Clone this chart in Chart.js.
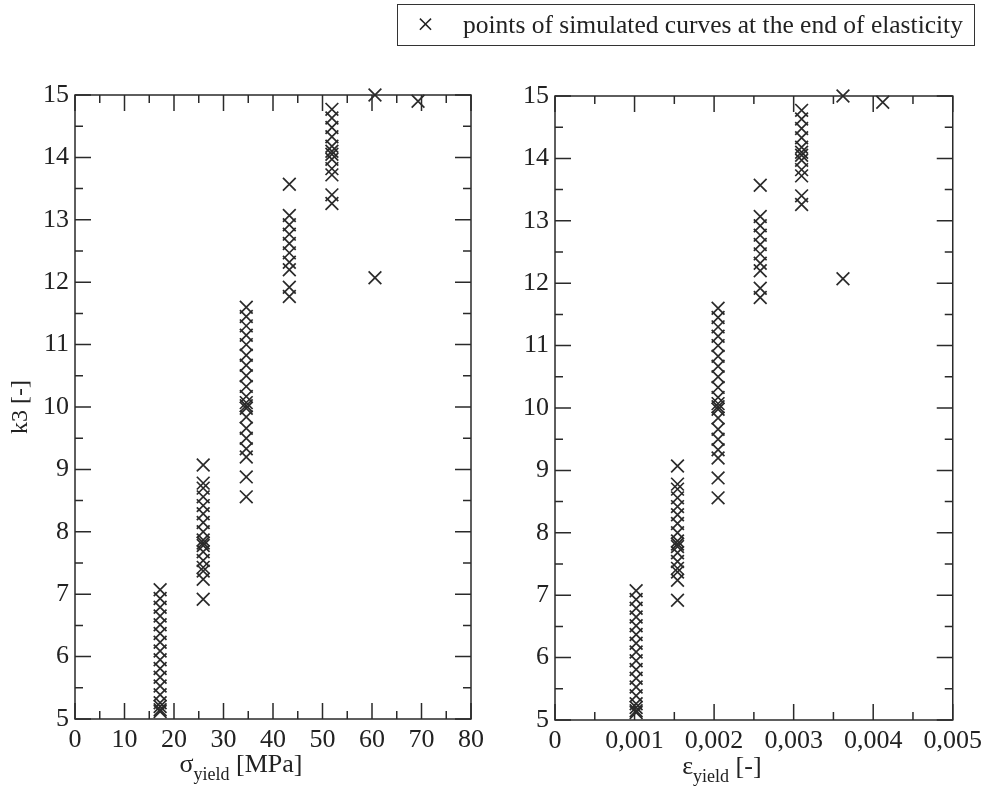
<!DOCTYPE html>
<html>
<head>
<meta charset="utf-8">
<script src="https://cdn.jsdelivr.net/npm/chart.js"></script>
<style>
  body { margin: 0; background: #fff; }
  #wrap { position: relative; width: 988px; height: 786px; background: #fff; }
  canvas { position: absolute; top: 0; }
  #left { left: 0; }
  #right { left: 490px; }
  #legend {
    position: absolute; left: 397px; top: 4px; width: 576px; height: 40px;
    border: 1.5px solid #333; font-family: 'Liberation Serif', serif;
    font-size: 25.5px; color: #222; line-height: 40px;
  }
  #legend .mark { position: absolute; left: 19px; top: -1px; font-size: 30px; }
  #legend .txt { position: absolute; left: 65px; top: 0; }
</style>
</head>
<body>
<div id="wrap">
  <canvas id="left" width="490" height="786"></canvas>
  <canvas id="right" width="498" height="786"></canvas>
  <div id="legend"><span class="mark">×</span><span class="txt">points of simulated curves at the end of elasticity</span></div>
</div>
<script>
// yield stress [MPa] and yield strain [-] of each group of simulated curves
const sigmaYield = [17.2, 25.9, 34.6, 43.3, 51.9, 60.6, 69.3];
const epsYield = [0.00102, 0.00154, 0.00205, 0.00258, 0.0031, 0.00362, 0.00412];

// k3 values read for each group
const k3Groups = [
  [7.07, 6.93, 6.79, 6.65, 6.51, 6.37, 6.23, 6.09, 5.95, 5.81, 5.67, 5.53, 5.39, 5.26, 5.2, 5.15, 5.12],
  [9.07, 8.78, 8.70, 8.56, 8.42, 8.29, 8.15, 8.0, 7.87, 7.82, 7.78, 7.68, 7.54, 7.43, 7.37, 7.24, 6.92],
  [11.6, 11.45, 11.3, 11.15, 11.0, 10.83, 10.67, 10.5, 10.33, 10.17, 10.07, 10.02, 9.98, 9.84, 9.66, 9.5, 9.33, 9.2, 8.88, 8.56],
  [13.57, 13.07, 12.92, 12.77, 12.62, 12.47, 12.32, 12.2, 11.92, 11.77],
  [14.77, 14.63, 14.48, 14.33, 14.18, 14.1, 14.05, 13.97, 13.82, 13.72, 13.4, 13.26],
  [15.0, 12.07],
  [14.9]
];

const sigmaTicks = [0, 80, 10];
const epsTicks = [0, 0.005, 0.001];
const k3Ticks = [5, 15, 1];

const ink = '#2a2a2a';
const serif = 'Liberation Serif';

function points(xs) {
  return k3Groups.flatMap((vals, i) => vals.map(v => ({ x: xs[i], y: v })));
}

// frame with inward major/minor ticks on all four sides, plus the x title with a subscript
const frame = {
  id: 'frame',
  afterDraw(chart, args, opts) {
    const { ctx, chartArea: a, scales: { x, y } } = chart;
    ctx.save();
    ctx.strokeStyle = ink;
    ctx.lineWidth = 1.5;
    ctx.strokeRect(a.left, a.top, a.right - a.left, a.bottom - a.top);
    const marks = (scale) => {
      const vals = scale.ticks.map(t => t.value);
      const step = vals[1] - vals[0];
      const out = [];
      vals.forEach(v => {
        out.push([v, 16]);
        if (v + step / 2 < scale.max) out.push([v + step / 2, 8]);
      });
      return out;
    };
    ctx.beginPath();
    marks(x).forEach(([v, len]) => {
      const px = x.getPixelForValue(v);
      ctx.moveTo(px, a.bottom); ctx.lineTo(px, a.bottom - len);
      ctx.moveTo(px, a.top); ctx.lineTo(px, a.top + len);
    });
    marks(y).forEach(([v, len]) => {
      const py = y.getPixelForValue(v);
      ctx.moveTo(a.left, py); ctx.lineTo(a.left + len, py);
      ctx.moveTo(a.right, py); ctx.lineTo(a.right - len, py);
    });
    ctx.stroke();

    // x axis title: symbol, subscript, unit
    ctx.fillStyle = '#222';
    ctx.textBaseline = 'alphabetic';
    ctx.textAlign = 'left';
    const big = '26px "' + serif + '"', small = '18px "' + serif + '"';
    ctx.font = big;
    const w1 = ctx.measureText(opts.sym).width;
    const w3 = ctx.measureText(opts.unit).width;
    ctx.font = small;
    const w2 = ctx.measureText('yield').width;
    let sx = (a.left + a.right) / 2 + opts.shift - (w1 + w2 + w3) / 2;
    const base = opts.base;
    ctx.font = big; ctx.fillText(opts.sym, sx, base); sx += w1;
    ctx.font = small; ctx.fillText('yield', sx, base + 8); sx += w2;
    ctx.font = big; ctx.fillText(opts.unit, sx, base);
    ctx.restore();
  }
};

function makeChart(id, xs, xr, fmt, pad, yWidth, xHeight, title, showYTitle) {
  return new Chart(document.getElementById(id), {
    type: 'scatter',
    data: {
      datasets: [{
        data: points(xs),
        pointStyle: 'crossRot',
        pointRadius: 9,
        pointHoverRadius: 9,
        pointBorderWidth: 1.7,
        borderColor: ink,
        backgroundColor: ink,
        clip: false
      }]
    },
    options: {
      responsive: false,
      animation: false,
      events: [],
      layout: { padding: pad },
      plugins: {
        legend: { display: false },
        tooltip: { enabled: false },
        frame: title
      },
      scales: {
        x: {
          type: 'linear', min: xr[0], max: xr[1],
          grid: { display: false, drawTicks: false },
          border: { display: false },
          ticks: {
            stepSize: xr[2], padding: 6, color: '#222',
            font: { family: serif, size: 26 },
            callback: fmt
          },
          afterFit: s => { s.height = xHeight; }
        },
        y: {
          min: k3Ticks[0], max: k3Ticks[1],
          grid: { display: false, drawTicks: false },
          border: { display: false },
          ticks: {
            stepSize: k3Ticks[2], padding: 6, color: '#222',
            font: { family: serif, size: 26 }
          },
          title: {
            display: showYTitle, text: 'k3 [-]', color: '#222',
            font: { family: serif, size: 24 }, padding: { top: 6, bottom: 4 }
          },
          afterFit: s => { s.width = yWidth; }
        }
      }
    },
    plugins: [frame]
  });
}

makeChart('left', sigmaYield, sigmaTicks, v => String(v),
  { top: 95, right: 14, bottom: 0, left: 0 }, 75, 67,
  { sym: 'σ', unit: ' [MPa]', shift: -32, base: 772 }, true);

makeChart('right', epsYield, epsTicks,
  v => v === 0 ? '0' : v.toFixed(3).replace('.', ','),
  { top: 96, right: 31, bottom: 0, left: 0 }, 65, 66,
  { sym: 'ε', unit: ' [-]', shift: -32, base: 774 }, false);
</script>
</body>
</html>
